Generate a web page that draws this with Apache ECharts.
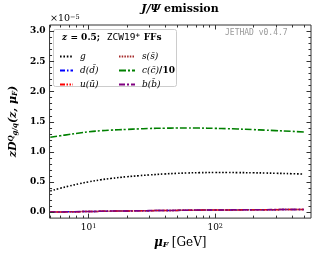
<!DOCTYPE html>
<html><head><meta charset="utf-8">
<script src="https://cdn.jsdelivr.net/npm/echarts@6/dist/echarts.min.js"></script>
<style>html,body{margin:0;padding:0;background:#fff}#c{width:317px;height:254px}</style>
</head><body><div id="c"></div>
<script>
// ---- data (values in units of 1e-5) ----
const muF   = [5, 6, 7, 8.5, 10, 12.5, 15, 20, 25, 30, 40, 50, 60, 75, 100, 125, 150, 200, 250, 300, 400, 500];
const gluon = [0.35, 0.395, 0.43, 0.47, 0.50, 0.535, 0.557, 0.585, 0.603, 0.615, 0.632, 0.642, 0.648, 0.653, 0.655, 0.655, 0.654, 0.651, 0.647, 0.643, 0.636, 0.630];
const dQ    = [0.000, 0.002, 0.004, 0.007, 0.009, 0.012, 0.015, 0.018, 0.021, 0.023, 0.026, 0.028, 0.030, 0.032, 0.034, 0.035, 0.036, 0.038, 0.039, 0.040, 0.042, 0.043];
const uQ    = [0.000, 0.002, 0.004, 0.007, 0.009, 0.012, 0.015, 0.018, 0.021, 0.023, 0.026, 0.028, 0.030, 0.032, 0.034, 0.035, 0.036, 0.038, 0.039, 0.040, 0.042, 0.043];
const sQ    = [0.000, 0.002, 0.004, 0.007, 0.009, 0.012, 0.015, 0.018, 0.021, 0.023, 0.026, 0.028, 0.030, 0.032, 0.034, 0.035, 0.036, 0.038, 0.039, 0.040, 0.042, 0.043];
const cQ10  = [1.24, 1.265, 1.285, 1.31, 1.33, 1.348, 1.358, 1.37, 1.378, 1.385, 1.39, 1.393, 1.394, 1.392, 1.387, 1.382, 1.377, 1.366, 1.357, 1.35, 1.338, 1.328];
const bQ    = [0.001, 0.003, 0.005, 0.008, 0.010, 0.013, 0.016, 0.019, 0.022, 0.024, 0.027, 0.029, 0.031, 0.033, 0.035, 0.036, 0.037, 0.039, 0.040, 0.041, 0.043, 0.044];

const xMajorTicks = [10, 100];
const xMinorTicks = [5, 6, 7, 8, 9, 20, 30, 40, 50, 60, 70, 80, 90, 200, 300, 400, 500];
const yMajorTicks = [0.0, 0.5, 1.0, 1.5, 2.0, 2.5, 3.0];
const yMinorTicks = [0.1, 0.2, 0.3, 0.4, 0.6, 0.7, 0.8, 0.9, 1.1, 1.2, 1.3, 1.4, 1.6, 1.7, 1.8, 1.9, 2.1, 2.2, 2.3, 2.4, 2.6, 2.7, 2.8, 2.9];

const SERIF = '"DejaVu Serif", serif';
const chart = echarts.init(document.getElementById('c'), null, {renderer: 'canvas'});

function zip(xs, ys) { return xs.map((x, i) => [x, ys[i]]); }
function line(name, ys, color, dash, width) {
  return {
    name, type: 'line', data: zip(muF, ys), symbol: 'none', smooth: true,
    lineStyle: {color, type: dash, width: width || 1.5}, itemStyle: {color},
    emphasis: {disabled: true}
  };
}
function tickSeries(vals, isX, len) {
  return {
    type: 'custom', silent: true, z: 10, clip: false,
    data: vals.map(v => isX ? [v, 1] : [10, v]),
    renderItem: (params, api) => {
      const cs = params.coordSys;
      const st = {stroke: '#333', lineWidth: 1};
      if (isX) {
        const px = Math.round(api.coord([api.value(0), 1])[0]) + 0.5;
        const b = cs.y + cs.height, t = cs.y;
        return {type: 'group', children: [
          {type: 'line', shape: {x1: px, y1: b, x2: px, y2: b - len}, style: st},
          {type: 'line', shape: {x1: px, y1: t, x2: px, y2: t + len}, style: st}
        ]};
      } else {
        const py = Math.round(api.coord([10, api.value(1)])[1]) + 0.5;
        const l = cs.x, r = cs.x + cs.width;
        return {type: 'group', children: [
          {type: 'line', shape: {x1: l, y1: py, x2: l + len, y2: py}, style: st},
          {type: 'line', shape: {x1: r, y1: py, x2: r - len, y2: py}, style: st}
        ]};
      }
    }
  };
}

const labelMap = {
  g: '{i|g}', d: '{i|d(d\u0304)}', u: '{i|u(u\u0304)}',
  s: '{i|s(s\u0304)}', c: '{i|c(c\u0304)}{b|/10}', b: '{i|b(b\u0304)}'
};
const legendText = {
  fontFamily: SERIF, fontSize: 9, color: '#000', padding: [0, 0, 0, 2],
  rich: {
    i: {fontFamily: SERIF, fontStyle: 'italic', fontSize: 9, color: '#000'},
    b: {fontFamily: SERIF, fontWeight: 'bold', fontSize: 9, color: '#000'}
  }
};
const hiddenSymbol = {color: 'rgba(0,0,0,0)', borderColor: 'rgba(0,0,0,0)', borderWidth: 0};

chart.setOption({
  animation: false,
  backgroundColor: '#fff',
  grid: {left: 49, top: 25, width: 262, height: 195, show: true, borderColor: '#333', borderWidth: 1, containLabel: false},
  xAxis: {
    type: 'log', min: 4.93, max: 570, logBase: 10,
    axisLine: {show: false}, axisTick: {show: false}, splitLine: {show: false}, minorTick: {show: false},
    axisLabel: {
      margin: 5,
      formatter: v => {
        const l = Math.log10(v);
        if (Math.abs(l - Math.round(l)) < 1e-6 && v > 5 && v < 500) return '{n|10}{s|' + Math.round(l) + '}';
        return '';
      },
      rich: {
        n: {fontFamily: SERIF, fontSize: 9, color: '#000', verticalAlign: 'bottom'},
        s: {fontFamily: SERIF, fontSize: 6.5, color: '#000', verticalAlign: 'top'}
      }
    },
    name: '{m|μ}{f|F} {g|[GeV]}', nameLocation: 'middle', nameGap: 14,
    nameTextStyle: {
      rich: {
        m: {fontFamily: SERIF, fontStyle: 'italic', fontWeight: 'bold', fontSize: 12, color: '#000'},
        f: {fontFamily: SERIF, fontStyle: 'italic', fontWeight: 'bold', fontSize: 8, color: '#000', verticalAlign: 'bottom'},
        g: {fontFamily: SERIF, fontSize: 12, color: '#000'}
      }
    }
  },
  yAxis: {
    type: 'value', min: -0.1, max: 3.1,
    axisLine: {show: false}, axisTick: {show: false}, splitLine: {show: false}, minorTick: {show: false},
    axisLabel: {
      margin: 4, fontFamily: SERIF, fontWeight: 'bold', fontSize: 9, color: '#000',
      formatter: v => (Math.abs(v * 2 - Math.round(v * 2)) < 1e-6 && v > -0.01 && v < 3.01) ? v.toFixed(1) : ''
    },
    name: '{b|zD}{q|Q}{s|g/q}{b|(z, μ}{s|F}{b|)}', nameLocation: 'middle', nameGap: 26,
    nameTextStyle: {
      rich: {
        b: {fontFamily: SERIF, fontStyle: 'italic', fontWeight: 'bold', fontSize: 11, color: '#000'},
        q: {fontFamily: SERIF, fontStyle: 'italic', fontWeight: 'bold', fontSize: 7, color: '#000', verticalAlign: 'top'},
        s: {fontFamily: SERIF, fontStyle: 'italic', fontWeight: 'bold', fontSize: 7, color: '#000', verticalAlign: 'bottom'}
      }
    }
  },
  legend: [
    {orient: 'vertical', left: 54, top: 47, z: 20, itemWidth: 13, itemHeight: 8, itemGap: 5,
     data: ['g', 'd', 'u'], formatter: n => labelMap[n], textStyle: legendText, selectedMode: false, itemStyle: hiddenSymbol},
    {orient: 'vertical', left: 113, top: 47, z: 20, itemWidth: 16, itemHeight: 8, itemGap: 5,
     data: ['s', 'c', 'b'], formatter: n => labelMap[n], textStyle: legendText, selectedMode: false, itemStyle: hiddenSymbol}
  ],
  graphic: [
    {type: 'rect', left: 53, top: 29, z: 1, shape: {width: 123, height: 57, r: 2}, style: {fill: '#fff', stroke: '#cccccc', lineWidth: 1}},
    {type: 'text', x: 62, y: 38, z: 20, style: {
      text: '{i|z} {b|= 0.5;}  {m|ZCW19}{p|+} {b|FFs}', textVerticalAlign: 'middle',
      rich: {
        i: {fontFamily: SERIF, fontStyle: 'italic', fontWeight: 'bold', fontSize: 9, fill: '#000'},
        b: {fontFamily: SERIF, fontWeight: 'bold', fontSize: 9, fill: '#000'},
        m: {fontFamily: '"DejaVu Sans Mono", monospace', fontSize: 9.5, fill: '#000'},
        p: {fontFamily: SERIF, fontWeight: 'bold', fontSize: 6, fill: '#000', verticalAlign: 'top'}
      }}},
    {type: 'text', x: 225, y: 33, z: 20, style: {text: 'JETHAD v0.4.7', fontFamily: '"DejaVu Sans Mono", monospace', fontSize: 8, fill: '#999', textVerticalAlign: 'middle'}},
    {type: 'text', x: 50, y: 19, z: 20, style: {
      text: '{n|×10}{s|−5}', textVerticalAlign: 'middle',
      rich: {
        n: {fontFamily: SERIF, fontSize: 9.5, fill: '#000', verticalAlign: 'bottom'},
        s: {fontFamily: SERIF, fontSize: 6.5, fill: '#000', verticalAlign: 'top'}
      }}},
    {type: 'text', x: 180, y: 9, z: 20, style: {
      text: '{i|J/Ψ} {b|emission}', textAlign: 'center', textVerticalAlign: 'middle',
      rich: {
        i: {fontFamily: SERIF, fontStyle: 'italic', fontWeight: 'bold', fontSize: 11, fill: '#000'},
        b: {fontFamily: SERIF, fontWeight: 'bold', fontSize: 11, fill: '#000'}
      }}}
  ],
  series: [
    line('g', gluon, '#000000', [1.6, 1.8], 1.6),
    line('d', dQ, '#0000ff', [5, 2, 1.5, 2]),
    line('u', uQ, '#ff0000', [5, 1.5, 1.5, 1.5, 1.5, 1.5]),
    line('s', sQ, '#a52a2a', [1.5, 1.2]),
    line('c', cQ10, '#008000', [7, 2, 2, 2], 1.6),
    line('b', bQ, '#800080', [6, 2, 2, 2]),
    tickSeries(xMajorTicks, true, 4.5),
    tickSeries(xMinorTicks, true, 2.5),
    tickSeries(yMajorTicks, false, 4.5),
    tickSeries(yMinorTicks, false, 2.5)
  ]
});
</script></body></html>
